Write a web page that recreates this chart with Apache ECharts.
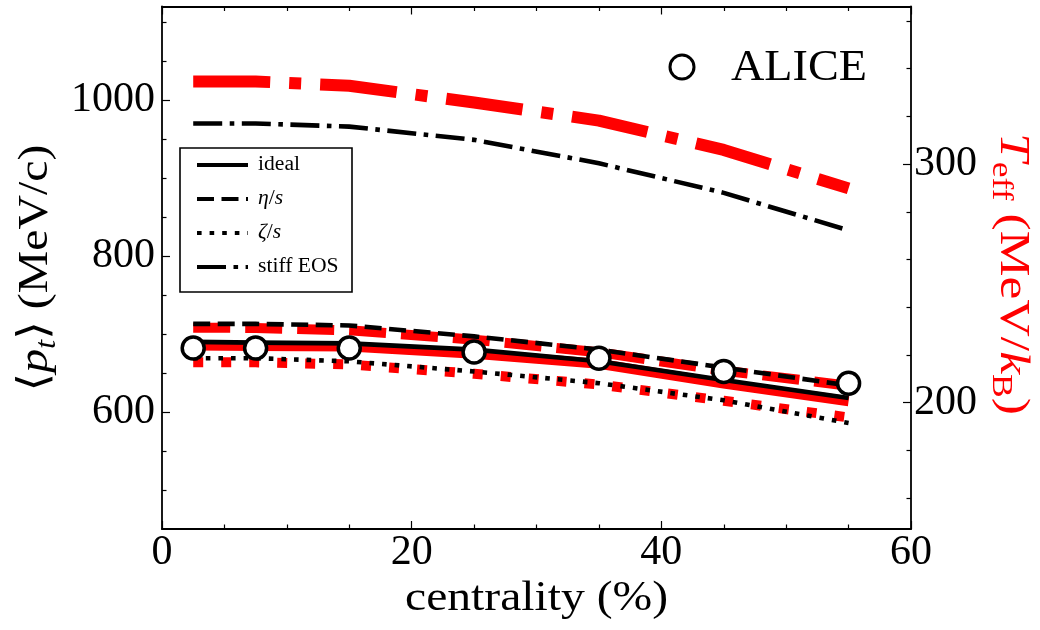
<!DOCTYPE html>
<html>
<head>
<meta charset="utf-8">
<script src="https://cdn.jsdelivr.net/npm/echarts@6/dist/echarts.min.js"></script>
<style>
  html, body { margin: 0; padding: 0; background: #fff; }
  #chart { width: 1040px; height: 630px; }
</style>
</head>
<body>
<div id="chart"></div>
<script>
// Centrality bins (%) where model curves and data are evaluated
const centrality = [2.5, 7.5, 15, 25, 35, 45, 55];

// Mean transverse momentum <p_t> (MeV/c), left axis
const ptIdeal = [690, 689, 688, 680, 665, 641, 618];
const ptEtaS  = [713, 713, 711, 697, 680, 657, 634];
const ptZetaS = [669, 669, 665, 652, 637, 615, 586];
const ptStiff = [970, 970, 966, 949, 919, 881, 833];

// Effective temperature T_eff (MeV/k_B), right axis
const tIdeal = [224.0, 223.7, 223.5, 220.5, 216.3, 208.0, 200.6];
const tEtaS  = [231.4, 231.3, 230.3, 226.4, 221.1, 213.4, 207.1];
const tZetaS = [216.9, 216.9, 216.0, 212.1, 207.6, 200.8, 193.8];
const tStiff = [334.6, 334.6, 332.8, 325.8, 318.2, 305.9, 289.8];

// ALICE measurement
const aliceCentrality = [2.5, 7.5, 15, 25, 35, 45, 55];
const alicePt = [682, 682, 682, 677, 669, 652, 637];

// Axis ticks
const xTicks = [0, 20, 40, 60];
const ptTicks = [600, 800, 1000];
const ptMinorTicks = [500, 550, 650, 700, 750, 850, 900, 950, 1050, 1100];
const tTicks = [200, 300];
const tMinorTicks = [160, 180, 220, 240, 260, 280, 320, 340, 360];

const ptMin = 450, ptMax = 1120;
const ptPerT = 3.06;              // right axis is the left axis divided by this factor
const tMin = ptMin / ptPerT, tMax = ptMax / ptPerT;

const SERIF = "'Liberation Serif', 'DejaVu Serif', serif";
const RED = '#ff0000';

// line styles
const BW = 4.6, RW = 10;
const blackDash = { solid: 'solid', dashed: [17, 7.5], dotted: [4.6, 8], dashdot: [29, 7.5, 4.6, 7.5] };
const redDash = { solid: 'solid', dashed: [37, 15], dotted: [10, 18], dashdot: [77, 19, 12, 19] };

function pairs(xs, ys) { return xs.map((x, i) => [x, ys[i]]); }

function lineSeries(name, ys, yAxisIndex, color, width, dash, z) {
  return {
    type: 'line', name, xAxisIndex: 0, yAxisIndex,
    data: pairs(centrality, ys),
    showSymbol: false, symbol: 'none', smooth: false,
    lineStyle: { color, width, type: dash, cap: 'butt', join: 'round' },
    z, silent: true, animation: false
  };
}

// ----- text helpers (mixed italic / subscript runs) -----
const mctx = document.createElement('canvas').getContext('2d');
function fontOf(size, italic) { return (italic ? 'italic ' : '') + size + 'px ' + SERIF; }
function measure(t, f) { mctx.font = f; return mctx.measureText(t).width; }

// builds text children laid out along local x, alphabetic baseline at local y = 0
function buildRun(pieces, size, color) {
  let x = 0;
  const children = [];
  pieces.forEach(p => {
    const s = p.sub ? Math.round(size * 0.7) : size;
    const f = fontOf(s, p.it);
    const dy = p.sub ? size * 0.17 : 0;
    children.push({
      type: 'text', x: x, y: dy - 0.34 * s, z: 100,
      style: { text: p.t, font: f, fill: color, textAlign: 'left', textVerticalAlign: 'middle' },
      silent: true
    });
    x += measure(p.t, f);
  });
  return { children, width: x };
}

function textGroup(pieces, size, color, opts) {
  const run = buildRun(pieces, size, color);
  const sx = opts.length ? opts.length / run.width : (opts.scale || 1);
  const L = run.width * sx;
  const g = { type: 'group', children: run.children, scaleX: sx, scaleY: 1, silent: true, z: 100 };
  if (opts.rotation) g.rotation = opts.rotation;
  if (opts.vertical === 'up') {           // reads bottom to top, centred on cy
    g.x = opts.x; g.y = opts.cy + L / 2;
  } else if (opts.vertical === 'down') {  // reads top to bottom, centred on cy
    g.x = opts.x; g.y = opts.cy - L / 2;
  } else if (opts.align === 'center') {
    g.x = opts.cx - L / 2; g.y = opts.y;
  } else {
    g.x = opts.x; g.y = opts.y;
  }
  return g;
}

// ----- legend -----
const legendNames = [
  [{ t: 'ideal' }],
  [{ t: 'η', it: true }, { t: '/' }, { t: 's', it: true }],
  [{ t: 'ζ', it: true }, { t: '/' }, { t: 's', it: true }],
  [{ t: 'stiff EOS' }]
];
const legendDashes = [blackDash.solid, blackDash.dashed, blackDash.dotted, blackDash.dashdot];
const legendRows = [165, 199, 233, 267];

const graphics = [];
graphics.push({
  type: 'rect', shape: { x: 180, y: 148, width: 172, height: 144 },
  style: { fill: 'none', stroke: '#000', lineWidth: 1.6 }, z: 90, silent: true
});
legendNames.forEach((nm, i) => {
  const y = legendRows[i];
  const d = legendDashes[i];
  graphics.push({
    type: 'line', shape: { x1: 197, y1: y, x2: 248, y2: y },
    style: { stroke: '#000', lineWidth: 4.2, lineDash: d === 'solid' ? null : d, lineCap: 'butt' },
    z: 95, silent: true
  });
  graphics.push(textGroup(nm, 20, '#000', { x: 258, y: y + 7, scale: 1.08 }));
});

// ALICE marker key
graphics.push({
  type: 'circle', shape: { cx: 682, cy: 67, r: 12 },
  style: { fill: '#fff', stroke: '#000', lineWidth: 3 }, z: 95, silent: true
});
graphics.push(textGroup([{ t: 'ALICE' }], 45, '#000', { x: 731, y: 83, length: 136 }));

// axis titles
graphics.push(textGroup(
  [{ t: '⟨' }, { t: 'p', it: true }, { t: 't', it: true, sub: true }, { t: '⟩' }, { t: ' (MeV/c)' }],
  42, '#000', { vertical: 'up', x: 50, cy: 268, rotation: Math.PI / 2, length: 247 }));
graphics.push(textGroup(
  [{ t: 'T', it: true }, { t: 'eff', sub: true }, { t: ' (MeV/' }, { t: 'k', it: true }, { t: 'B', sub: true }, { t: ')' }],
  42, RED, { vertical: 'down', x: 998, cy: 274, rotation: -Math.PI / 2, length: 282 }));
graphics.push(textGroup([{ t: 'centrality (%)' }], 42, '#000', { align: 'center', cx: 536.5, y: 613, length: 263 }));

// ----- axes -----
const axisLine = { show: true, lineStyle: { color: '#000', width: 1.8 } };
const tickLine = { color: '#000', width: 1.2 };
const labelStyle = { color: '#000', fontSize: 42, fontFamily: SERIF, formatter: v => String(v) };

const xAxisCommon = {
  type: 'value', min: 0, max: 60, interval: 20,
  axisLine, splitLine: { show: false },
  axisTick: { show: true, inside: true, length: 8, lineStyle: tickLine },
  minorTick: { show: true, splitNumber: 4, length: 4.5, lineStyle: tickLine },
  minorSplitLine: { show: false }
};

const option = {
  animation: false,
  backgroundColor: '#fff',
  grid: { left: 162, right: 129, top: 6.5, bottom: 101, containLabel: false, outerBoundsMode: 'none' },
  xAxis: [
    Object.assign({}, xAxisCommon, {
      position: 'bottom',
      axisLabel: Object.assign({ margin: 3, customValues: xTicks }, labelStyle)
    }),
    Object.assign({}, xAxisCommon, { position: 'top', axisLabel: { show: false } })
  ],
  yAxis: [
    {
      type: 'value', position: 'left', min: ptMin, max: ptMax,
      axisLine, splitLine: { show: false },
      axisTick: { show: true, inside: true, length: 8, lineStyle: tickLine, customValues: ptTicks },
      axisLabel: Object.assign({ margin: 7, customValues: ptTicks }, labelStyle)
    },
    {
      type: 'value', position: 'left', min: ptMin, max: ptMax,
      axisLine: { show: false }, splitLine: { show: false },
      axisTick: { show: true, inside: true, length: 4.5, lineStyle: tickLine, customValues: ptMinorTicks },
      axisLabel: { show: false }
    },
    {
      type: 'value', position: 'right', min: tMin, max: tMax,
      axisLine, splitLine: { show: false },
      axisTick: { show: true, inside: true, length: 8, lineStyle: tickLine, customValues: tTicks },
      axisLabel: Object.assign({ margin: 3, customValues: tTicks }, labelStyle)
    },
    {
      type: 'value', position: 'right', min: tMin, max: tMax,
      axisLine: { show: false }, splitLine: { show: false },
      axisTick: { show: true, inside: true, length: 4.5, lineStyle: tickLine, customValues: tMinorTicks },
      axisLabel: { show: false }
    }
  ],
  series: [
    // T_eff curves (right axis), drawn underneath
    lineSeries('T ideal', tIdeal, 2, RED, RW, redDash.solid, 2),
    lineSeries('T eta/s', tEtaS, 2, RED, RW, redDash.dashed, 2),
    lineSeries('T zeta/s', tZetaS, 2, RED, RW, redDash.dotted, 2),
    lineSeries('T stiff EOS', tStiff, 2, RED, 12, redDash.dashdot, 2),
    // <p_t> curves (left axis)
    lineSeries('ideal', ptIdeal, 0, '#000', BW, blackDash.solid, 3),
    lineSeries('eta/s', ptEtaS, 0, '#000', BW, blackDash.dashed, 3),
    lineSeries('zeta/s', ptZetaS, 0, '#000', BW, blackDash.dotted, 3),
    lineSeries('stiff EOS', ptStiff, 0, '#000', BW, blackDash.dashdot, 3),
    {
      type: 'scatter', name: 'ALICE', xAxisIndex: 0, yAxisIndex: 0,
      data: pairs(aliceCentrality, alicePt),
      symbol: 'circle', symbolSize: 22,
      itemStyle: { color: '#fff', borderColor: '#000', borderWidth: 3.5, opacity: 1 },
      z: 5, silent: true, animation: false
    }
  ],
  graphic: graphics
};

const chart = echarts.init(document.getElementById('chart'), null, { renderer: 'canvas' });
chart.setOption(option);
</script>
</body>
</html>
